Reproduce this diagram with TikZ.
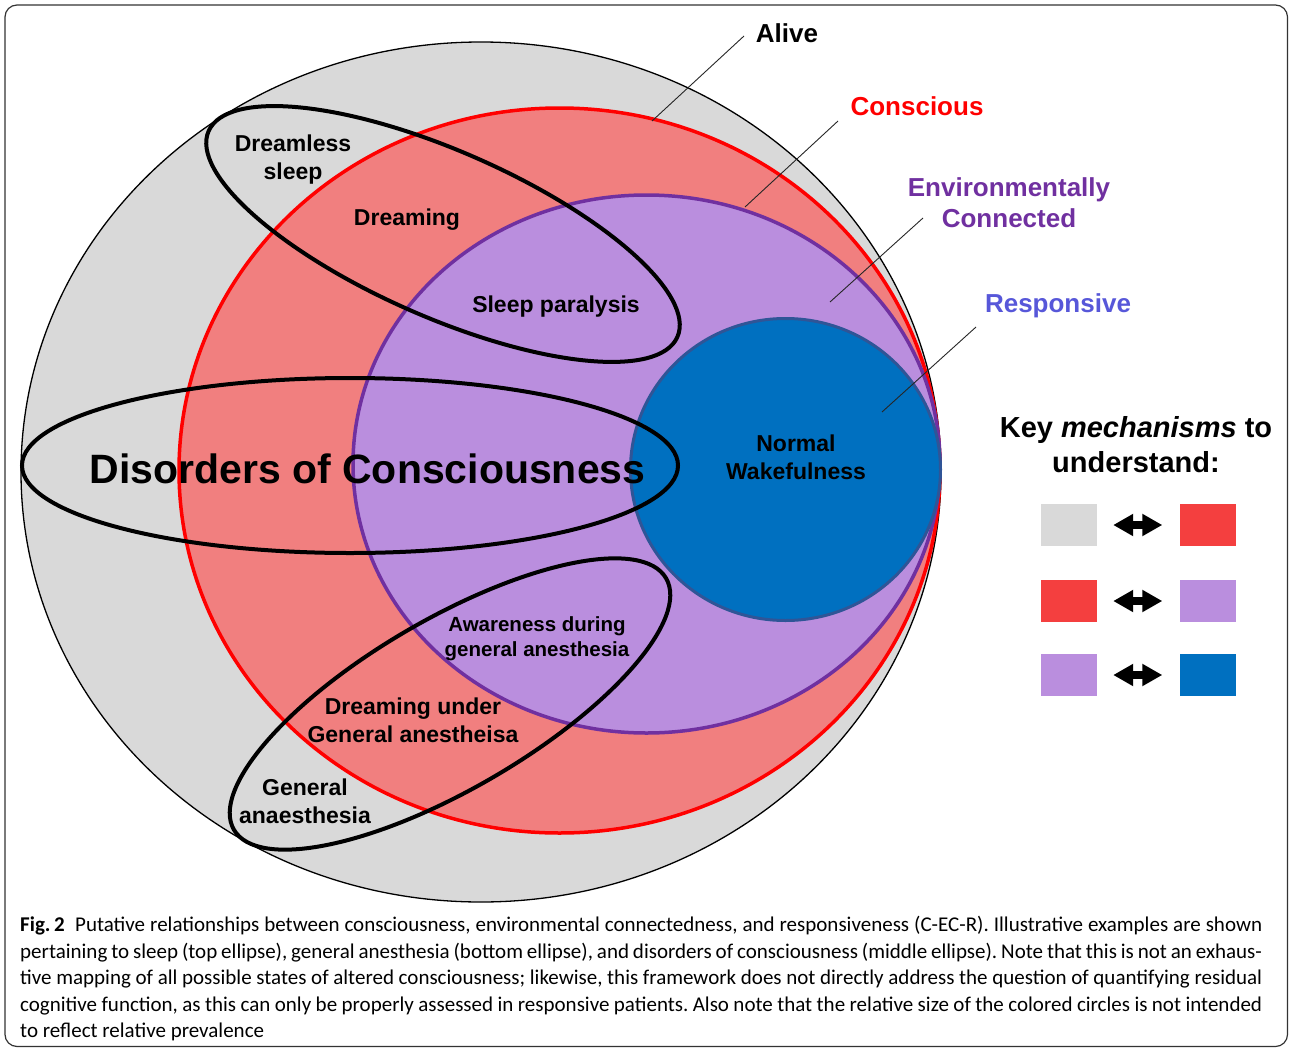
\documentclass[tikz,border=0pt]{standalone}
\usepackage{fontspec}
\setmainfont{Liberation Sans}
\newfontfamily\capfont{Carlito}
\usepackage{xcolor}
\usetikzlibrary{arrows.meta}
\definecolor{alivegrey}{HTML}{D9D9D9}
\definecolor{consfill}{HTML}{F17F7F}
\definecolor{envfill}{HTML}{BA8EDE}
\definecolor{envline}{HTML}{7030A0}
\definecolor{respfill}{HTML}{0070C0}
\definecolor{respline}{HTML}{2F5597}
\definecolor{resptext}{HTML}{5757D9}
\definecolor{keyred}{HTML}{F43F3F}
\tikzset{x=1pt, y=-1pt,
 lbl/.style={font=\fontsize{23}{28}\selectfont\bfseries, align=center},
 smalllbl/.style={font=\fontsize{20.5}{25}\selectfont\bfseries, align=center},
 setlbl/.style={font=\fontsize{26}{31}\selectfont\bfseries, align=center},
 setline/.style={draw=black, line width=4pt},
 leader/.style={draw=black!85, line width=0.9pt},
 keybox/.style={minimum width=56pt, minimum height=42pt, inner sep=0pt},
 keyarrow/.style={line width=8pt, >={Triangle[length=20pt,width=21pt]}, <->},
 capnode/.style={text width=1242pt, align=justify, inner sep=0pt,
   font=\capfont\fontsize{21}{26.5}\selectfont\frenchspacing},
 }

\begin{document}
\begin{tikzpicture}
    \useasboundingbox (0,0) rectangle (1290,1049);
    \draw[black!80, line width=1.2pt, rounded corners=12pt] (5,5) rectangle (1287.5,1046.5);

    % nested sets
    \draw[fill=alivegrey, line width=1.3pt] (481,472) ellipse [x radius=460, y radius=430];
    \draw[fill=consfill, draw=red, line width=3.5pt] (559.5,470.5) ellipse [x radius=380.5, y radius=362.5];
    \draw[fill=envfill, draw=envline, line width=3.5pt] (646.5,464) ellipse [x radius=293.5, y radius=269];
    \draw[fill=respfill, draw=respline, line width=3pt] (785.5,469.5) ellipse [x radius=155, y radius=151];

    % leaders
    \coordinate (alive-a) at (744,36);
    \coordinate (alive-b) at (652,121);
    \coordinate (cons-a) at (838,121);
    \coordinate (cons-b) at (745,207);
    \coordinate (env-a) at (923,218);
    \coordinate (env-b) at (830,302);
    \coordinate (resp-a) at (976,327);
    \coordinate (resp-b) at (882,412);
    \draw[leader] (alive-a) -- (alive-b);
    \draw[leader] (cons-a) -- (cons-b);
    \draw[leader] (env-a) -- (env-b);
    \draw[leader] (resp-a) -- (resp-b);

    % example ellipses
    \draw[setline, rotate around={-23.7:(443,234)}] (443,234) ellipse [x radius=256, y radius=83];
    \draw[setline] (350,465.5) ellipse [x radius=328, y radius=87.5];
    \draw[setline, rotate around={30.2:(450,704)}] (450,704) ellipse [x radius=250, y radius=85];

    \node[setlbl] (alive) at (787,33) {Alive};
    \node[setlbl, text=red] (cons) at (917,106) {Conscious};
    \node[setlbl, text=envline] (env) at (1009,202.3) {Environmentally\\Connected};
    \node[setlbl, text=resptext] (resp) at (1058,305.5) {Responsive};

    \node[lbl] (dreamless) at (293,159.2) {Dreamless\\sleep};
    \node[lbl] (dreaming) at (407,219.2) {Dreaming};
    \node[lbl] (paralysis) at (556,306.4) {Sleep paralysis};
    \node[font=\fontsize{41}{48}\selectfont\bfseries] (doc) at (367.5,469.2) {Disorders of Consciousness};
    \node[lbl] (normal) at (796,457.3) {Normal\\Wakefulness};
    \node[smalllbl] (aware) at (537,638.5) {Awareness during\\general anesthesia};
    \node[lbl] (dreamga) at (413,719.8) {Dreaming under\\General anestheisa};
    \node[lbl] (ga) at (305,800.8) {General\\anaesthesia};

    % key
    \node[font=\fontsize{29}{35}\selectfont\bfseries, align=center] (keytitle) at (1136,444.4)
        {Key \textit{mechanisms} to\\understand:};
    \node[keybox, fill=alivegrey] (k1a) at (1069,525) {};
    \node[keybox, fill=keyred] (k1b) at (1207.5,525) {};
    \node[keybox, fill=keyred] (k2a) at (1069,601) {};
    \node[keybox, fill=envfill] (k2b) at (1207.5,601) {};
    \node[keybox, fill=envfill] (k3a) at (1069,675) {};
    \node[keybox, fill=respfill] (k3b) at (1207.5,675) {};
    \draw[keyarrow] ([xshift=16pt]k1a.east) -- ([xshift=-17pt]k1b.west);
    \draw[keyarrow] ([xshift=16pt]k2a.east) -- ([xshift=-17pt]k2b.west);
    \draw[keyarrow] ([xshift=16pt]k3a.east) -- ([xshift=-17pt]k3b.west);

    \node[capnode, anchor=north west] (caption) at (20,916) {\textbf{Fig.\,2}\enspace Putative relationships between consciousness, environmental connectedness, and responsiveness (C-EC-R). Illustrative examples are shown\linebreak
    pertaining to sleep (top ellipse), general anesthesia (bottom ellipse), and disorders of consciousness (middle ellipse). Note that this is not an exhaus-\linebreak
    tive mapping of all possible states of altered consciousness; likewise, this framework does not directly address the question of quantifying residual\linebreak
    cognitive function, as this can only be properly assessed in responsive patients. Also note that the relative size of the colored circles is not intended\linebreak
    to reflect relative prevalence};
\end{tikzpicture}
\end{document}
